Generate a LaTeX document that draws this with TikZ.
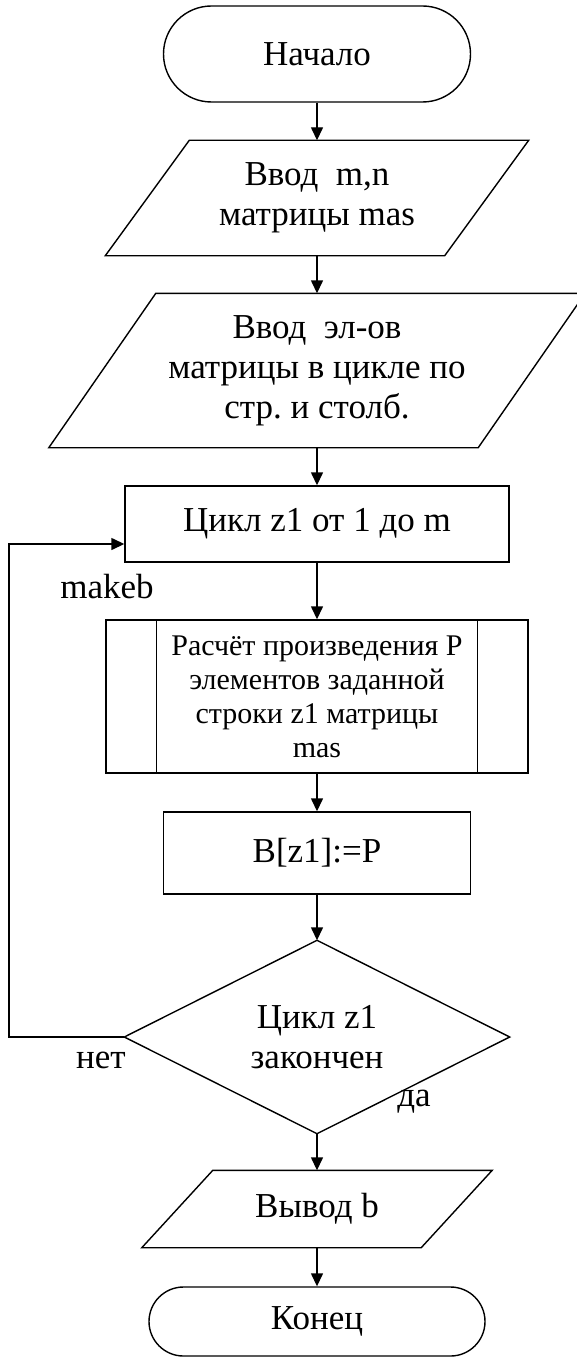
\documentclass[tikz,border=0pt]{standalone}
\usepackage{fontspec}
\setmainfont{Liberation Serif}
\usetikzlibrary{arrows.meta,calc}
\frenchspacing
\begin{document}
\begin{tikzpicture}[x=1pt,y=-1pt,line width=1.4pt,
  txt/.style={font=\fontsize{35}{40}\selectfont,align=center,inner sep=0pt},
  smalltxt/.style={font=\fontsize{30}{34}\selectfont,align=center,inner sep=0pt},
  box/.style={draw,inner sep=0pt},
  arr/.style={-{Triangle[length=13pt,width=12pt]}}]
\useasboundingbox (0,0) rectangle (577,1359);
% terminal start
\node[box,txt,rounded corners=48pt,minimum width=307pt,minimum height=96pt] (start) at (317,54) {Начало};
% input 1
\node[txt,minimum width=422pt,minimum height=114pt] (in1) at (317,198) {Ввод~~m,n\\матрицы mas};
\draw ($(in1.north west)+(84,0)$) -- (in1.north east) -- ($(in1.south east)-(84,0)$) -- (in1.south west) -- cycle;
% input 2
\node[txt,minimum width=535pt,minimum height=153pt] (in2) at (317,370.5) {Ввод~~эл-ов\\матрицы в цикле по\\стр. и столб.};
\draw ($(in2.north west)+(107,0)$) -- (in2.north east) -- ($(in2.south east)-(107,0)$) -- (in2.south west) -- cycle;
% loop
\node[box,txt,minimum width=384pt,minimum height=76pt] (cyc) at (317,524) {Цикл z1 от 1 до m};
% predefined process
\node[box,smalltxt,minimum width=422pt,minimum height=153pt] (proc) at (317,696.5) {Расчёт произведения P\\элементов заданной\\строки z1 матрицы\\mas};
\draw ($(proc.north west)+(51,0)$) -- ($(proc.south west)+(51,0)$);
\draw ($(proc.north east)-(51,0)$) -- ($(proc.south east)-(51,0)$);
% assignment
\node[box,txt,minimum width=307pt,minimum height=82pt] (asg) at (317,853) {B[z1]:=P};
% decision
\node[txt,minimum width=384pt,minimum height=192pt] (dia) at (317,1037) {Цикл z1\\закончен};
\draw (dia.north) -- (dia.east) -- (dia.south) -- (dia.west) -- cycle;
% output
\node[txt,minimum width=349pt,minimum height=76pt] (out) at (317,1209) {Вывод b};
\draw ($(out.north west)+(71,0)$) -- (out.north east) -- ($(out.south east)-(71,0)$) -- (out.south west) -- cycle;
% terminal end
\node[box,txt,rounded corners=34.5pt,minimum width=336pt,minimum height=69pt] (stop) at (317,1321.5) {Конец};
% labels
\node[txt] (lmakeb) at (107,587) {makeb};
\node[txt] (lnet) at (101,1060) {нет};
\node[txt] (lda) at (414,1102) {да};
% connectors
\draw[arr] (start.south) -- (in1.north);
\draw[arr] (in1.south) -- (in2.north);
\draw[arr] (in2.south) -- (cyc.north);
\draw[arr] (cyc.south) -- (proc.north);
\draw[arr] (proc.south) -- (asg.north);
\draw[arr] (asg.south) -- (dia.north);
\draw[arr] (dia.south) -- (out.north);
\draw[arr] (out.south) -- (stop.north);
\coordinate (l1) at (9,1037);
\coordinate (l2) at (9,544);
\draw[arr] (dia.west) -- (l1) -- (l2) -- (l2 -| cyc.west);
\end{tikzpicture}
\end{document}
